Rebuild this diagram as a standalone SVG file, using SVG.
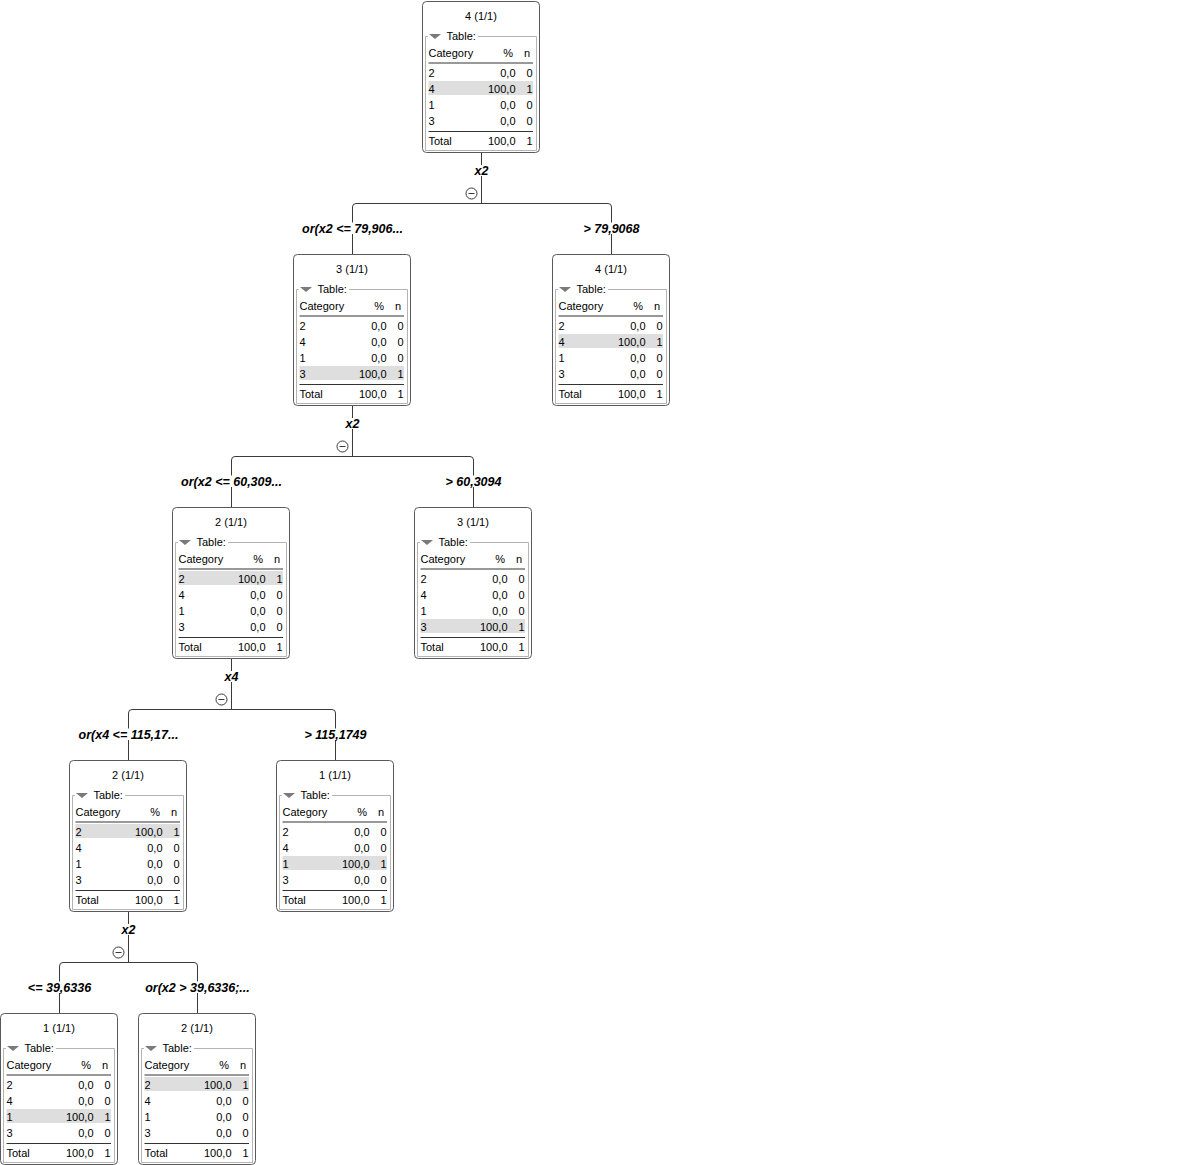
<svg xmlns="http://www.w3.org/2000/svg" width="1190" height="1165" viewBox="0 0 1190 1165">
<style>
text{font-family:"Liberation Sans",Arial,sans-serif;font-size:11px;fill:#000}
.e{text-anchor:end}
.m{text-anchor:middle}
.lbl{font-size:12.5px;font-weight:bold;font-style:italic;text-anchor:middle}
.box{fill:#fff;stroke:#5a5a5a;stroke-width:1}
.grp{fill:none;stroke:#b4b4b4;stroke-width:1}
.tri{fill:#7a7a7a}
.rule{stroke:#333;stroke-width:1}
.hl{fill:#dedede}
.con{fill:none;stroke:#3a3a3a;stroke-width:1}
.tog{fill:#fff;stroke:#3a3a3a;stroke-width:1}
</style>
<defs>
<g id="frame">
<rect class="box" x="0.5" y="0.5" width="117" height="151" rx="4"/>
<path class="grp" d="M6,35.5 H3.5 V149.5 H114.5 V35.5 H56"/>
<path class="tri" d="M7,33 L19,33 L13,38 Z"/>
<text x="24.5" y="39">Table:</text>
<text x="6.5" y="55.5">Category</text>
<text class="e" x="91" y="55.5">%</text>
<text class="e" x="108" y="55.5">n</text>
<line class="rule" x1="6.5" y1="62" x2="111" y2="62"/>
<line class="rule" x1="6.5" y1="130.5" x2="111" y2="130.5"/>
</g>
</defs>

<g id="connectors">
<!-- root -> L1, R1 -->
<path class="con" d="M481.5,153 V165 M481.5,176 V203.5"/>
<path class="con" d="M352.5,222.5 V207 Q352.5,203.5 356,203.5 H608 Q611.5,203.5 611.5,207 V222.5 M352.5,234 V254 M611.5,234 V254"/>
<circle class="tog" cx="471.5" cy="193.5" r="5.5"/><line class="con" x1="468.5" y1="193.5" x2="474.5" y2="193.5"/>
<text class="lbl" x="481.5" y="174.5">x2</text>
<text class="lbl" x="352.5" y="232.5">or(x2 &lt;= 79,906...</text>
<text class="lbl" x="611.5" y="232.5">&gt; 79,9068</text>
<!-- L1 -> L2, R2 -->
<path class="con" d="M352.5,406 V418 M352.5,429 V456.5"/>
<path class="con" d="M231.5,475.5 V460 Q231.5,456.5 235,456.5 H470 Q473.5,456.5 473.5,460 V475.5 M231.5,487 V507 M473.5,487 V507"/>
<circle class="tog" cx="342.5" cy="446.5" r="5.5"/><line class="con" x1="339.5" y1="446.5" x2="345.5" y2="446.5"/>
<text class="lbl" x="352.5" y="427.5">x2</text>
<text class="lbl" x="231.5" y="485.5">or(x2 &lt;= 60,309...</text>
<text class="lbl" x="473.5" y="485.5">&gt; 60,3094</text>
<!-- L2 -> L3, R3 -->
<path class="con" d="M231.5,659 V671 M231.5,682 V709.5"/>
<path class="con" d="M128.5,728.5 V713 Q128.5,709.5 132,709.5 H332 Q335.5,709.5 335.5,713 V728.5 M128.5,740 V760 M335.5,740 V760"/>
<circle class="tog" cx="221.5" cy="699.5" r="5.5"/><line class="con" x1="218.5" y1="699.5" x2="224.5" y2="699.5"/>
<text class="lbl" x="231.5" y="680.5">x4</text>
<text class="lbl" x="128.5" y="738.5">or(x4 &lt;= 115,17...</text>
<text class="lbl" x="335.5" y="738.5">&gt; 115,1749</text>
<!-- L3 -> L4, R4 -->
<path class="con" d="M128.5,912 V924 M128.5,935 V962.5"/>
<path class="con" d="M59.5,981.5 V966 Q59.5,962.5 63,962.5 H194 Q197.5,962.5 197.5,966 V981.5 M59.5,993 V1013 M197.5,993 V1013"/>
<circle class="tog" cx="118.5" cy="952.5" r="5.5"/><line class="con" x1="115.5" y1="952.5" x2="121.5" y2="952.5"/>
<text class="lbl" x="128.5" y="933.5">x2</text>
<text class="lbl" x="59.5" y="991.5">&lt;= 39,6336</text>
<text class="lbl" x="197.5" y="991.5">or(x2 &gt; 39,6336;...</text>
</g>

<g id="node-root" transform="translate(422,1)">
<use href="#frame"/>
<text class="m" x="59" y="19">4 (1/1)</text>
<rect class="hl" x="6.5" y="80" width="104.5" height="14"/>
<text x="6.5" y="75.5">2</text><text class="e" x="93.5" y="75.5">0,0</text><text class="e" x="110.5" y="75.5">0</text>
<text x="6.5" y="91.5">4</text><text class="e" x="93.5" y="91.5">100,0</text><text class="e" x="110.5" y="91.5">1</text>
<text x="6.5" y="107.5">1</text><text class="e" x="93.5" y="107.5">0,0</text><text class="e" x="110.5" y="107.5">0</text>
<text x="6.5" y="123.5">3</text><text class="e" x="93.5" y="123.5">0,0</text><text class="e" x="110.5" y="123.5">0</text>
<text x="6.5" y="143.5">Total</text><text class="e" x="93.5" y="143.5">100,0</text><text class="e" x="110.5" y="143.5">1</text>
</g>

<g id="node-l1" transform="translate(293,254)">
<use href="#frame"/>
<text class="m" x="59" y="19">3 (1/1)</text>
<rect class="hl" x="6.5" y="112" width="104.5" height="14"/>
<text x="6.5" y="75.5">2</text><text class="e" x="93.5" y="75.5">0,0</text><text class="e" x="110.5" y="75.5">0</text>
<text x="6.5" y="91.5">4</text><text class="e" x="93.5" y="91.5">0,0</text><text class="e" x="110.5" y="91.5">0</text>
<text x="6.5" y="107.5">1</text><text class="e" x="93.5" y="107.5">0,0</text><text class="e" x="110.5" y="107.5">0</text>
<text x="6.5" y="123.5">3</text><text class="e" x="93.5" y="123.5">100,0</text><text class="e" x="110.5" y="123.5">1</text>
<text x="6.5" y="143.5">Total</text><text class="e" x="93.5" y="143.5">100,0</text><text class="e" x="110.5" y="143.5">1</text>
</g>

<g id="node-r1" transform="translate(552,254)">
<use href="#frame"/>
<text class="m" x="59" y="19">4 (1/1)</text>
<rect class="hl" x="6.5" y="80" width="104.5" height="14"/>
<text x="6.5" y="75.5">2</text><text class="e" x="93.5" y="75.5">0,0</text><text class="e" x="110.5" y="75.5">0</text>
<text x="6.5" y="91.5">4</text><text class="e" x="93.5" y="91.5">100,0</text><text class="e" x="110.5" y="91.5">1</text>
<text x="6.5" y="107.5">1</text><text class="e" x="93.5" y="107.5">0,0</text><text class="e" x="110.5" y="107.5">0</text>
<text x="6.5" y="123.5">3</text><text class="e" x="93.5" y="123.5">0,0</text><text class="e" x="110.5" y="123.5">0</text>
<text x="6.5" y="143.5">Total</text><text class="e" x="93.5" y="143.5">100,0</text><text class="e" x="110.5" y="143.5">1</text>
</g>

<g id="node-l2" transform="translate(172,507)">
<use href="#frame"/>
<text class="m" x="59" y="19">2 (1/1)</text>
<rect class="hl" x="6.5" y="64" width="104.5" height="14"/>
<text x="6.5" y="75.5">2</text><text class="e" x="93.5" y="75.5">100,0</text><text class="e" x="110.5" y="75.5">1</text>
<text x="6.5" y="91.5">4</text><text class="e" x="93.5" y="91.5">0,0</text><text class="e" x="110.5" y="91.5">0</text>
<text x="6.5" y="107.5">1</text><text class="e" x="93.5" y="107.5">0,0</text><text class="e" x="110.5" y="107.5">0</text>
<text x="6.5" y="123.5">3</text><text class="e" x="93.5" y="123.5">0,0</text><text class="e" x="110.5" y="123.5">0</text>
<text x="6.5" y="143.5">Total</text><text class="e" x="93.5" y="143.5">100,0</text><text class="e" x="110.5" y="143.5">1</text>
</g>

<g id="node-r2" transform="translate(414,507)">
<use href="#frame"/>
<text class="m" x="59" y="19">3 (1/1)</text>
<rect class="hl" x="6.5" y="112" width="104.5" height="14"/>
<text x="6.5" y="75.5">2</text><text class="e" x="93.5" y="75.5">0,0</text><text class="e" x="110.5" y="75.5">0</text>
<text x="6.5" y="91.5">4</text><text class="e" x="93.5" y="91.5">0,0</text><text class="e" x="110.5" y="91.5">0</text>
<text x="6.5" y="107.5">1</text><text class="e" x="93.5" y="107.5">0,0</text><text class="e" x="110.5" y="107.5">0</text>
<text x="6.5" y="123.5">3</text><text class="e" x="93.5" y="123.5">100,0</text><text class="e" x="110.5" y="123.5">1</text>
<text x="6.5" y="143.5">Total</text><text class="e" x="93.5" y="143.5">100,0</text><text class="e" x="110.5" y="143.5">1</text>
</g>

<g id="node-l3" transform="translate(69,760)">
<use href="#frame"/>
<text class="m" x="59" y="19">2 (1/1)</text>
<rect class="hl" x="6.5" y="64" width="104.5" height="14"/>
<text x="6.5" y="75.5">2</text><text class="e" x="93.5" y="75.5">100,0</text><text class="e" x="110.5" y="75.5">1</text>
<text x="6.5" y="91.5">4</text><text class="e" x="93.5" y="91.5">0,0</text><text class="e" x="110.5" y="91.5">0</text>
<text x="6.5" y="107.5">1</text><text class="e" x="93.5" y="107.5">0,0</text><text class="e" x="110.5" y="107.5">0</text>
<text x="6.5" y="123.5">3</text><text class="e" x="93.5" y="123.5">0,0</text><text class="e" x="110.5" y="123.5">0</text>
<text x="6.5" y="143.5">Total</text><text class="e" x="93.5" y="143.5">100,0</text><text class="e" x="110.5" y="143.5">1</text>
</g>

<g id="node-r3" transform="translate(276,760)">
<use href="#frame"/>
<text class="m" x="59" y="19">1 (1/1)</text>
<rect class="hl" x="6.5" y="96" width="104.5" height="14"/>
<text x="6.5" y="75.5">2</text><text class="e" x="93.5" y="75.5">0,0</text><text class="e" x="110.5" y="75.5">0</text>
<text x="6.5" y="91.5">4</text><text class="e" x="93.5" y="91.5">0,0</text><text class="e" x="110.5" y="91.5">0</text>
<text x="6.5" y="107.5">1</text><text class="e" x="93.5" y="107.5">100,0</text><text class="e" x="110.5" y="107.5">1</text>
<text x="6.5" y="123.5">3</text><text class="e" x="93.5" y="123.5">0,0</text><text class="e" x="110.5" y="123.5">0</text>
<text x="6.5" y="143.5">Total</text><text class="e" x="93.5" y="143.5">100,0</text><text class="e" x="110.5" y="143.5">1</text>
</g>

<g id="node-l4" transform="translate(0,1013)">
<use href="#frame"/>
<text class="m" x="59" y="19">1 (1/1)</text>
<rect class="hl" x="6.5" y="96" width="104.5" height="14"/>
<text x="6.5" y="75.5">2</text><text class="e" x="93.5" y="75.5">0,0</text><text class="e" x="110.5" y="75.5">0</text>
<text x="6.5" y="91.5">4</text><text class="e" x="93.5" y="91.5">0,0</text><text class="e" x="110.5" y="91.5">0</text>
<text x="6.5" y="107.5">1</text><text class="e" x="93.5" y="107.5">100,0</text><text class="e" x="110.5" y="107.5">1</text>
<text x="6.5" y="123.5">3</text><text class="e" x="93.5" y="123.5">0,0</text><text class="e" x="110.5" y="123.5">0</text>
<text x="6.5" y="143.5">Total</text><text class="e" x="93.5" y="143.5">100,0</text><text class="e" x="110.5" y="143.5">1</text>
</g>

<g id="node-r4" transform="translate(138,1013)">
<use href="#frame"/>
<text class="m" x="59" y="19">2 (1/1)</text>
<rect class="hl" x="6.5" y="64" width="104.5" height="14"/>
<text x="6.5" y="75.5">2</text><text class="e" x="93.5" y="75.5">100,0</text><text class="e" x="110.5" y="75.5">1</text>
<text x="6.5" y="91.5">4</text><text class="e" x="93.5" y="91.5">0,0</text><text class="e" x="110.5" y="91.5">0</text>
<text x="6.5" y="107.5">1</text><text class="e" x="93.5" y="107.5">0,0</text><text class="e" x="110.5" y="107.5">0</text>
<text x="6.5" y="123.5">3</text><text class="e" x="93.5" y="123.5">0,0</text><text class="e" x="110.5" y="123.5">0</text>
<text x="6.5" y="143.5">Total</text><text class="e" x="93.5" y="143.5">100,0</text><text class="e" x="110.5" y="143.5">1</text>
</g>
</svg>
